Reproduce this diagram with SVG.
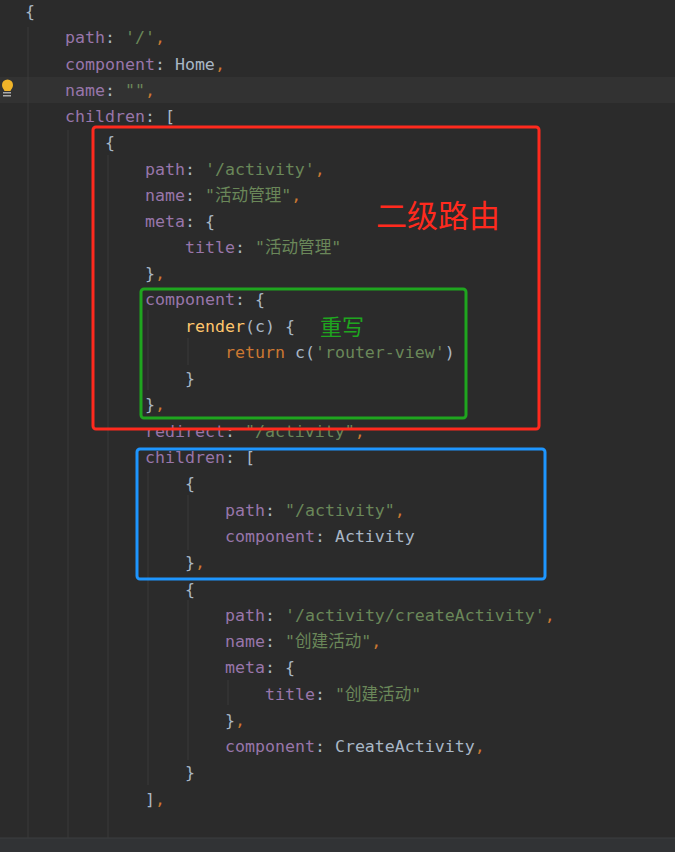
<svg xmlns="http://www.w3.org/2000/svg" width="675" height="852" viewBox="0 0 675 852">
<style>
text{font-family:"DejaVu Sans Mono","Liberation Mono","Noto Sans CJK SC",monospace;font-size:16.6px;white-space:pre}
.p{fill:#9876aa}.s{fill:#6a8759}.d{fill:#a9b7c6}.o{fill:#cc7832}.y{fill:#ffc66d}
.g{stroke:#3b3b3b;stroke-width:1}
.box{fill:none;stroke-width:3}
</style>
<rect width="675" height="852" fill="#2b2b2b"/>
<rect x="0" y="77" width="675" height="26" fill="#323232"/>
<rect x="0" y="838" width="675" height="14" fill="#313335"/>
<line x1="0" y1="838" x2="675" y2="838" stroke="#3c3f41"/>
<g class="g">
<line x1="28" y1="27" x2="28" y2="838"/>
<line x1="68" y1="130" x2="68" y2="838"/>
<line x1="108" y1="155" x2="108" y2="838"/>
<line x1="148" y1="310" x2="148" y2="390"/>
<line x1="188" y1="338" x2="188" y2="365"/>
<line x1="148" y1="470" x2="148" y2="785"/>
<line x1="188" y1="495" x2="188" y2="550"/>
<line x1="188" y1="600" x2="188" y2="760"/>
<line x1="228" y1="680" x2="228" y2="705"/>
</g>
<path d="M2 85a5.5 5.5 0 1 1 11 0c0 3-2 4-2.5 6h-6c-.5-2-2.5-3-2.5-6z" fill="#f0b429"/>
<rect x="3" y="92" width="8" height="1.5" fill="#aaa"/><rect x="3" y="95" width="8" height="1.5" fill="#aaa"/>
<g id="code">
<text x="25" y="17" class="d">{</text>
<text x="65" y="43"><tspan class="p">path</tspan><tspan class="d">: </tspan><tspan class="s">'/'</tspan><tspan class="o">,</tspan></text>
<text x="65" y="70"><tspan class="p">component</tspan><tspan class="d">: Home</tspan><tspan class="o">,</tspan></text>
<text x="65" y="96"><tspan class="p">name</tspan><tspan class="d">: </tspan><tspan class="s">""</tspan><tspan class="o">,</tspan></text>
<text x="65" y="122"><tspan class="p">children</tspan><tspan class="d">: [</tspan></text>
<text x="105" y="148" class="d">{</text>
<text x="145" y="175"><tspan class="p">path</tspan><tspan class="d">: </tspan><tspan class="s">'/activity'</tspan><tspan class="o">,</tspan></text>
<text x="145" y="201"><tspan class="p">name</tspan><tspan class="d">: </tspan><tspan class="s">"活动管理"</tspan><tspan class="o">,</tspan></text>
<text x="145" y="227"><tspan class="p">meta</tspan><tspan class="d">: {</tspan></text>
<text x="185" y="253"><tspan class="p">title</tspan><tspan class="d">: </tspan><tspan class="s">"活动管理"</tspan></text>
<text x="145" y="279"><tspan class="d">}</tspan><tspan class="o">,</tspan></text>
<text x="145" y="305"><tspan class="p">component</tspan><tspan class="d">: {</tspan></text>
<text x="185" y="332"><tspan class="y">render</tspan><tspan class="d">(c) {</tspan></text>
<text x="225" y="358"><tspan class="o">return </tspan><tspan class="d">c(</tspan><tspan class="s">'router-view'</tspan><tspan class="d">)</tspan></text>
<text x="185" y="384" class="d">}</text>
<text x="145" y="410"><tspan class="d">}</tspan><tspan class="o">,</tspan></text>
<text x="145" y="437"><tspan class="p">redirect</tspan><tspan class="d">: </tspan><tspan class="s">"/activity"</tspan><tspan class="o">,</tspan></text>
<text x="145" y="463"><tspan class="p">children</tspan><tspan class="d">: [</tspan></text>
<text x="185" y="489" class="d">{</text>
<text x="225" y="516"><tspan class="p">path</tspan><tspan class="d">: </tspan><tspan class="s">"/activity"</tspan><tspan class="o">,</tspan></text>
<text x="225" y="542"><tspan class="p">component</tspan><tspan class="d">: Activity</tspan></text>
<text x="185" y="568"><tspan class="d">}</tspan><tspan class="o">,</tspan></text>
<text x="185" y="595" class="d">{</text>
<text x="225" y="621"><tspan class="p">path</tspan><tspan class="d">: </tspan><tspan class="s">'/activity/createActivity'</tspan><tspan class="o">,</tspan></text>
<text x="225" y="647"><tspan class="p">name</tspan><tspan class="d">: </tspan><tspan class="s">"创建活动"</tspan><tspan class="o">,</tspan></text>
<text x="225" y="673"><tspan class="p">meta</tspan><tspan class="d">: {</tspan></text>
<text x="265" y="700"><tspan class="p">title</tspan><tspan class="d">: </tspan><tspan class="s">"创建活动"</tspan></text>
<text x="225" y="726"><tspan class="d">}</tspan><tspan class="o">,</tspan></text>
<text x="225" y="752"><tspan class="p">component</tspan><tspan class="d">: CreateActivity</tspan><tspan class="o">,</tspan></text>
<text x="185" y="778" class="d">}</text>
<text x="145" y="805"><tspan class="d">]</tspan><tspan class="o">,</tspan></text>
</g>
<g id="red"><rect class="box" x="93" y="127" width="446" height="302" rx="3" stroke="#ff2a1e"/>
<text x="376" y="227" style="font-family:'Noto Sans CJK SC',sans-serif;font-size:31px" fill="#ff2a1e">二级路由</text></g>
<g id="green"><rect class="box" x="141" y="289" width="325" height="129" rx="3" stroke="#1fa51f"/>
<text x="320" y="335" style="font-family:'Noto Sans CJK SC',sans-serif;font-size:22px" fill="#1fa51f">重写</text></g>
<g id="blue"><rect class="box" x="137" y="449" width="408" height="130" rx="3" stroke="#1e96ff"/></g>
</svg>
